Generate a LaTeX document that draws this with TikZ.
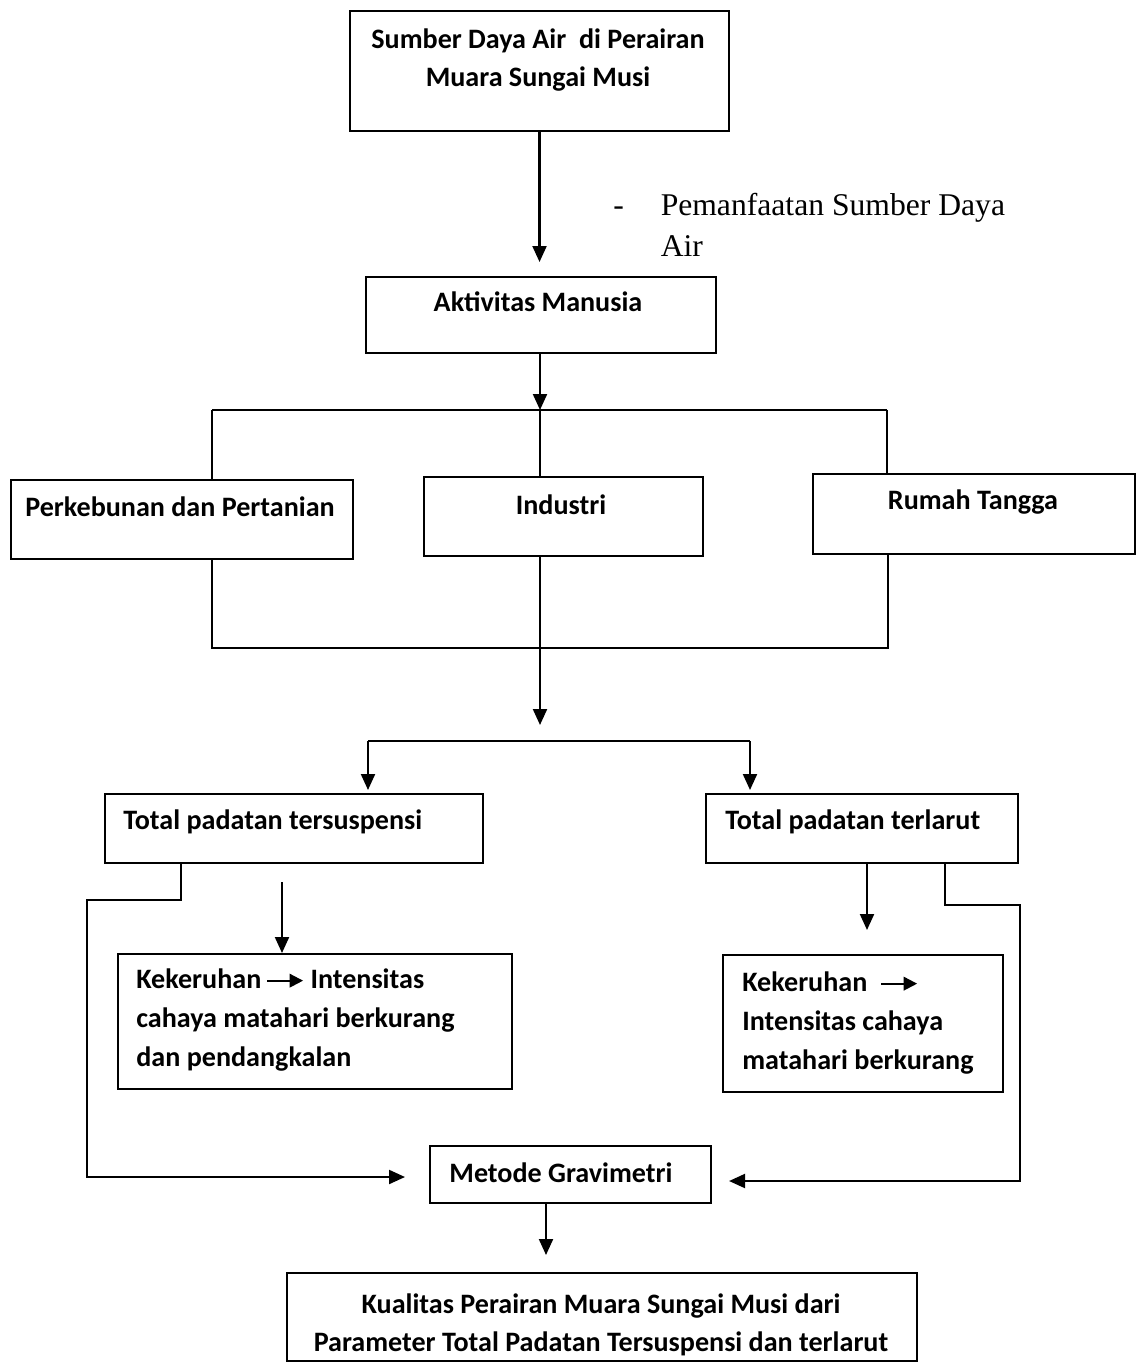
\documentclass[tikz,border=0pt]{standalone}
\usepackage{fontspec}
\setmainfont{Carlito}
\newfontfamily\timesfont{Liberation Serif}
\usetikzlibrary{arrows.meta,positioning}

\tikzset{
  box/.style={draw, line width=1.2pt, inner sep=0pt},
  txt/.style={font=\fontsize{16}{22}\selectfont\bfseries, align=center, inner sep=0pt},
  txtl/.style={txt, align=left, anchor=west},
  line/.style={line width=1.2pt},
  arr/.style={line width=1.2pt, -{Triangle[length=0.32cm,width=0.28cm]}}
}
\newcommand{\tipArrow}{\tikz[baseline=-0.6ex]\draw[line width=1.2pt,-{Triangle[length=0.27cm,width=0.27cm]}] (0cm,0cm) -- (0.72cm,0cm);}

\begin{document}
\begin{tikzpicture}[x=0.02cm, y=-0.02cm]
\useasboundingbox (0,0) rectangle (1136,1364);

% kotak
\node[box, minimum width=7.58cm, minimum height=2.40cm, anchor=north west] (sda) at (349,10) {};
\node[box, minimum width=7.00cm, minimum height=1.52cm, anchor=north west] (akt) at (365,276) {};
\node[box, minimum width=6.84cm, minimum height=1.58cm, anchor=north west] (kebun) at (10,479) {};
\node[box, minimum width=5.58cm, minimum height=1.58cm, anchor=north west] (industri) at (423,476) {};
\node[box, minimum width=6.44cm, minimum height=1.60cm, anchor=north west] (rt) at (812,473) {};
\node[box, minimum width=7.56cm, minimum height=1.38cm, anchor=north west] (tss) at (104,793) {};
\node[box, minimum width=6.24cm, minimum height=1.38cm, anchor=north west] (tds) at (705,793) {};
\node[box, minimum width=7.88cm, minimum height=2.70cm, anchor=north west] (keruh1) at (117,953) {};
\node[box, minimum width=5.60cm, minimum height=2.74cm, anchor=north west] (keruh2) at (722,954) {};
\node[box, minimum width=5.62cm, minimum height=1.14cm, anchor=north west] (grav) at (429,1145) {};
\node[box, minimum width=12.60cm, minimum height=1.76cm, anchor=north west] (kualitas) at (286,1272) {};

% teks
\node[txt] (sdaT) at (538,60) {Sumber Daya Air\ \ di Perairan\\Muara Sungai Musi};
\node[txt] (aktT) at (538,302) {Aktivitas Manusia};
\node[txt] (kebunT) at (180,507) {Perkebunan dan Pertanian};
\node[txt] (industriT) at (561,505) {Industri};
\node[txt] (rtT) at (973,502) {Rumah Tangga};
\node[txtl] (tssT) at (123,822) {Total padatan tersuspensi};
\node[txtl] (tdsT) at (725,822) {Total padatan terlarut};
\node[txtl] (keruh1T) at (136,1020) {Kekeruhan\,\tipArrow\ Intensitas\\cahaya matahari berkurang\\dan pendangkalan};
\node[txtl] (keruh2T) at (742,1023) {Kekeruhan\ \ \tipArrow\\Intensitas cahaya\\matahari berkurang};
\node[txt] (gravT) at (561,1173) {Metode Gravimetri};
\node[txt] (kualitasT) at (601,1325) {Kualitas Perairan Muara Sungai Musi dari\\Parameter Total Padatan Tersuspensi dan terlarut};
\node[font=\timesfont\fontsize{18}{23}\selectfont, anchor=west, inner sep=0pt] (manfaat) at (613,228)
  {\begin{tabular}{@{}l@{\hspace{21pt}}l@{}}-&Pemanfaatan Sumber Daya\\&Air\end{tabular}};

% titik bantu
\coordinate (btengah) at (540,410);
\coordinate (bkiri) at (212,410);
\coordinate (bkanan) at (887,410);
\coordinate (bwkiri) at (212,648);
\coordinate (bwtengah) at (540,648);
\coordinate (bwkanan) at (888,648);
\coordinate (pisah) at (540,741);
\coordinate (skiri) at (368,741);
\coordinate (skanan) at (750,741);
\coordinate (tssk) at (181,900);
\coordinate (lk1) at (87,900);
\coordinate (lk2) at (87,1177);
\coordinate (k1a) at (282,882);
\coordinate (k2a) at (867,930);
\coordinate (rk0) at (945,905);
\coordinate (rk1) at (1020,905);
\coordinate (rk2) at (1020,1181);
\coordinate (gk) at (546,1255);

% panah
\draw[arr, shorten >=0.28cm] (sda.south) -- (sda.south |- akt.north);
\draw[arr] (akt.south -| btengah) -- (btengah);
\draw[line] (bkiri) -- (bkanan);
\draw[line] (bkiri) -- (bkiri |- kebun.north);
\draw[line] (btengah) -- (btengah |- industri.north);
\draw[line] (bkanan) -- (bkanan |- rt.north);
\draw[line] (bwkiri |- kebun.south) -- (bwkiri) -- (bwkanan) -- (bwkanan |- rt.south);
\draw[line] (bwtengah |- industri.south) -- (bwtengah);
\draw[arr, shorten >=0.32cm] (bwtengah) -- (pisah);
\draw[line] (skiri) -- (skanan);
\draw[arr, shorten >=0.06cm] (skiri) -- (skiri |- tss.north);
\draw[arr, shorten >=0.06cm] (skanan) -- (skanan |- tds.north);
\draw[arr, shorten >=0.48cm] (tssk |- tss.south) -- (tssk) -- (lk1) -- (lk2) -- (lk2 -| grav.west);
\draw[arr] (k1a) -- (k1a |- keruh1.north);
\draw[arr] (k2a |- tds.south) -- (k2a);
\draw[arr, shorten >=0.34cm] (rk0 |- tds.south) -- (rk0) -- (rk1) -- (rk2) -- (rk2 -| grav.east);
\draw[arr] (grav.south -| gk) -- (gk);
\end{tikzpicture}
\end{document}
